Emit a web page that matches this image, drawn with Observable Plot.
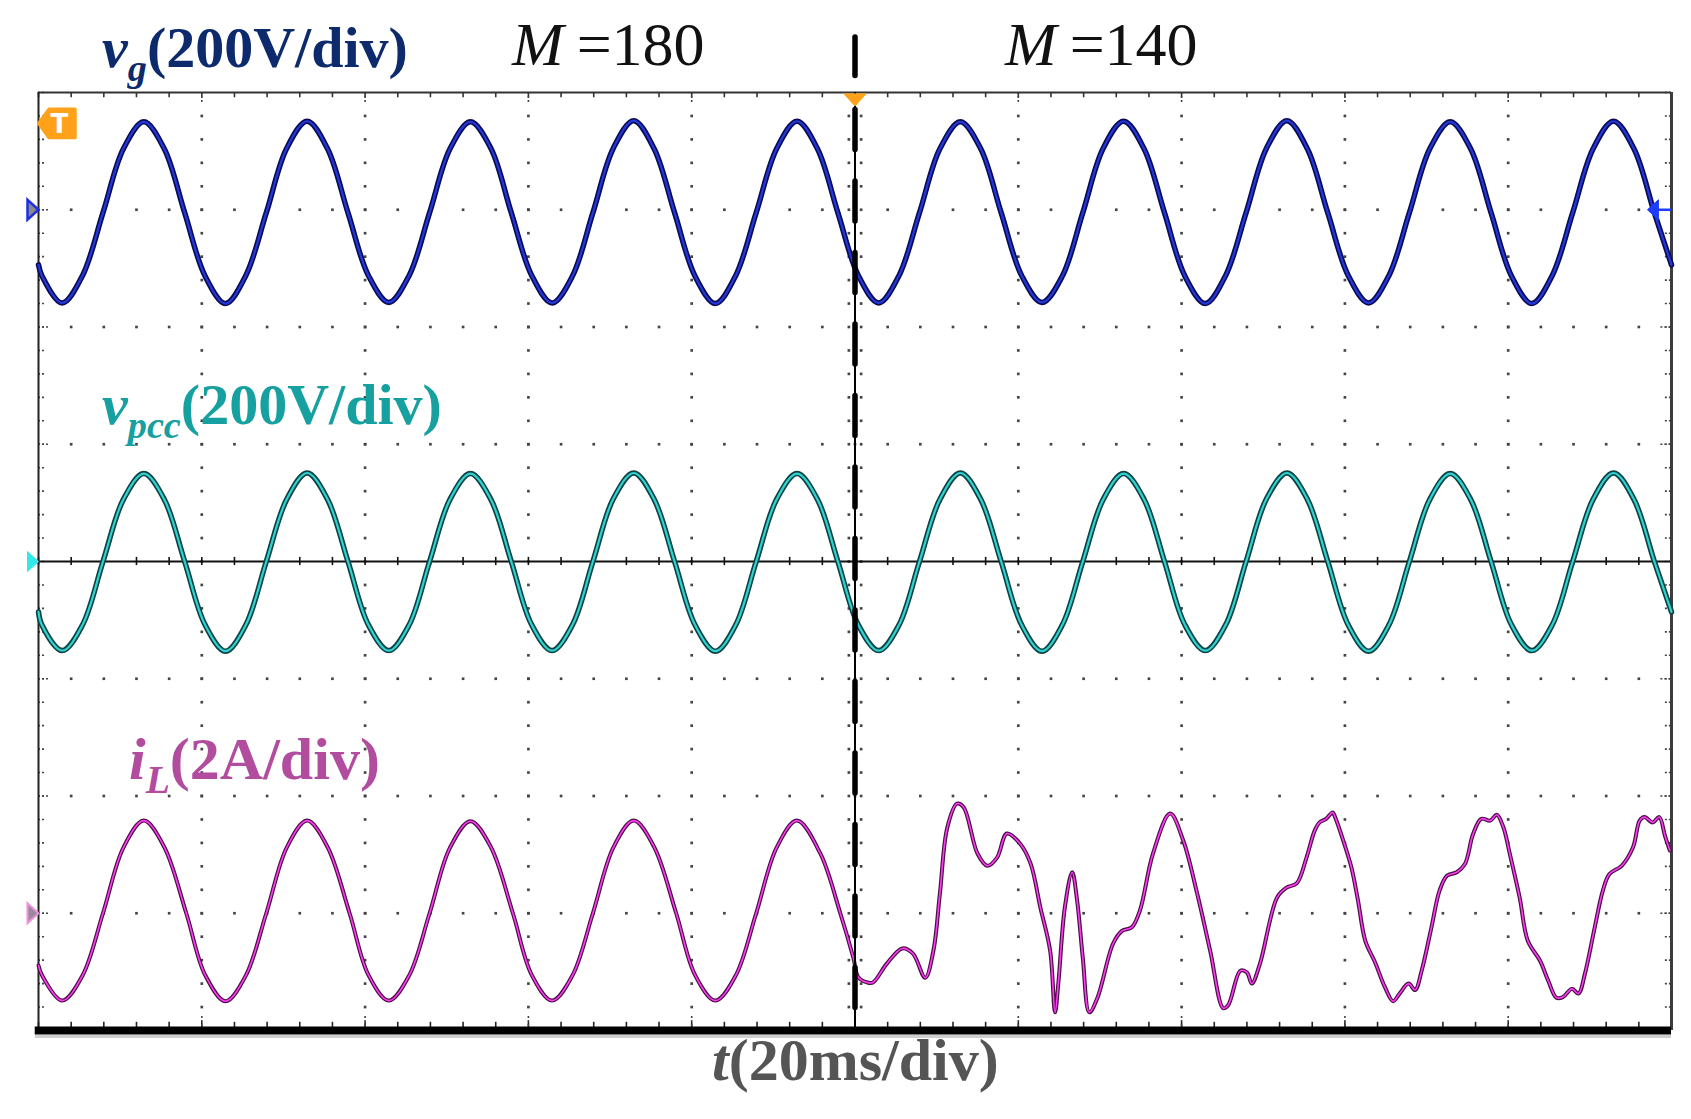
<!DOCTYPE html>
<html><head><meta charset="utf-8">
<script src="https://cdn.jsdelivr.net/npm/d3@7"></script>
<script src="https://cdn.jsdelivr.net/npm/@observablehq/plot@0.6"></script>
<style>
html,body{margin:0;padding:0;background:#fff;}
#chart{position:relative;width:1691px;height:1119px;}
</style></head><body><div id="chart"></div>
<script>
// ---------- data ----------
// time in ms (20 ms/div, 10 div), voltages in V (200 V/div), current in A (2 A/div)
const voltTime = [0,0.4,2.9,5.4,7.9,10.4,12.9,15.4,17.9,
20.4,22.9,25.4,27.9,30.4,32.9,35.4,37.9,
40.4,42.9,45.4,47.9,50.4,52.9,55.4,57.9,
60.4,62.9,65.4,67.9,70.4,72.9,75.4,77.9,
80.4,82.9,85.4,87.9,90.4,92.9,95.4,97.9,
100.4,102.9,105.4,107.9,110.4,112.9,115.4,117.9,
120.4,122.9,125.4,127.9,130.4,132.9,135.4,137.9,
140.4,142.9,145.4,147.9,150.4,152.9,155.4,157.9,
160.4,162.9,165.4,167.9,170.4,172.9,175.4,177.9,
180.4,182.9,185.4,187.9,190.4,192.9,195.4,197.9,200];

const vgVolts = [-94,-112,-159,-112,-5,104,150,104,-5,
-113,-160,-112,-5,105,151,104,-5,
-112,-158,-112,-5,104,150,105,-5,
-112,-159,-113,-5,105,152,104,-5,
-113,-160,-112,-5,104,151,104,-5,
-112,-159,-112,-5,104,150,104,-5,
-112,-158,-113,-5,105,151,104,-5,
-113,-160,-112,-5,105,152,104,-5,
-112,-159,-112,-5,104,150,104,-5,
-113,-160,-112,-5,104,151,104,-5,-94];

const vpccVolts = [-86,-108,-152,-108,0,106,150,106,0,
-108,-153,-108,0,106,151,106,0,
-108,-152,-108,0,106,150,106,0,
-108,-152,-108,0,107,151,106,0,
-108,-153,-108,0,106,150,106,0,
-108,-152,-108,0,106,151,106,0,
-108,-153,-108,0,106,150,106,0,
-108,-152,-108,0,107,151,106,0,
-108,-153,-108,0,106,150,106,0,
-108,-152,-108,0,106,151,106,0,-86];

const ilTime = [0,0.4,2.9,5.4,7.9,10.4,12.9,15.4,18.1,
20.4,22.9,25.4,27.9,30.4,32.9,35.4,38.1,
40.4,42.9,45.4,47.9,50.4,52.9,55.4,58.1,
60.4,62.9,65.4,67.9,70.4,72.9,75.4,78.1,
80.4,82.9,85.4,87.9,90.4,92.9,
95.75,98.2,99.8,100.4,101.5,102.2,103.9,105.8,107.1,108.6,
109.6,110.4,111.3,112.5,113.3,115.0,116.2,117.4,118.6,120.2,
121.5,122.7,123.9,124.5,124.9,125.7,126.6,127.2,127.9,128.7,
129.7,131.6,132.7,133.9,134.9,136.5,138.6,140.2,141.9,143.5,
145.1,145.7,147.2,148.0,148.6,149.6,151.7,152.9,154.1,155.3,
156.3,156.9,157.7,158.5,158.8,159.8,160.8,161.6,162.5,163.7,
164.9,165.9,166.7,167.8,168.6,169.4,170.6,171.6,172.5,173.7,
174.7,175.7,176.7,177.8,178.6,179.4,180.2,181.4,182.4,183.9,
184.9,185.9,186.7,187.8,188.6,189.4,190.6,191.6,192.4,193.9,
195.3,196.1,196.7,197.7,198.5,199.2,199.8];

const ilAmps = [-0.89,-1.05,-1.49,-1.06,0.00,1.12,1.58,1.13,0.00,
-1.05,-1.50,-1.06,0.00,1.12,1.58,1.13,0.00,
-1.05,-1.49,-1.06,0.00,1.12,1.57,1.13,0.00,
-1.05,-1.49,-1.06,0.00,1.12,1.58,1.13,0.00,
-1.05,-1.49,-1.06,0.00,1.12,1.58,
1.02,0.00,-0.76,-1.09,-1.18,-1.18,-0.86,-0.60,-0.69,-1.10,
-0.64,0.34,1.46,1.87,1.81,1.02,0.81,0.95,1.36,1.19,
0.85,0.10,-0.64,-1.69,-1.20,0.10,0.70,0.22,-0.76,-1.69,
-1.44,-0.52,-0.30,-0.24,0.05,1.02,1.70,1.24,0.34,-0.64,
-1.62,-1.57,-0.98,-1.01,-1.20,-0.86,0.27,0.44,0.51,0.95,
1.41,1.55,1.61,1.72,1.64,1.24,0.78,0.22,-0.47,-0.84,
-1.26,-1.50,-1.37,-1.20,-1.31,-0.98,-0.24,0.39,0.64,0.70,
0.84,1.35,1.61,1.58,1.68,1.47,1.01,0.27,-0.47,-0.81,
-1.15,-1.44,-1.43,-1.29,-1.37,-1.03,-0.24,0.39,0.67,0.81,
1.13,1.58,1.64,1.55,1.64,1.32,1.07];

const switchTime = [100];          // M changes from 180 to 140
const majorTime = [0,20,40,60,80,100,120,140,160,180,200];
const majorDiv = [-4,-3,-2,-1,0,1,2,3,4];

// ---------- scope settings ----------
const VG_OFFSET = 3, VPCC_OFFSET = 0, IL_OFFSET = -3;   // channel ground positions (div)
const V_PER_DIV = 200, A_PER_DIV = 2;

const vg = voltTime.map((t, i) => ({t, v: vgVolts[i]}));
const vpcc = voltTime.map((t, i) => ({t, v: vpccVolts[i]}));
const il = ilTime.map((t, i) => ({t, a: ilAmps[i]}));

const rnd = v => Math.round(v * 1000) / 1000;
const minorTime = d3.range(0, 201, 4);
const minorDiv = d3.range(-4, 4.001, 0.2).map(rnd);
const interiorT = majorTime.filter(t => t > 0 && t < 200 && t !== 100);
const interiorD = majorDiv.filter(d => d > -4 && d < 4 && d !== 0);
const vDots = interiorT.flatMap(t => minorDiv.filter(d => d > -4 && d < 4).map(d => ({t, d})));
const hDots = interiorD.flatMap(d => minorTime.filter(t => t > 0 && t < 200).map(t => ({t, d})));
const cDots = minorDiv.filter(d => d > -4 && d < 4).flatMap(d => [{t: 99.25, d}, {t: 100.75, d}]);

// custom symbols
const rightTri = {draw(c, s) { const r = Math.sqrt(s / Math.PI); c.moveTo(0, 0); c.lineTo(-r * 1.1, -r); c.lineTo(-r * 1.1, r); c.closePath(); }};
const leftTri = {draw(c, s) { const r = Math.sqrt(s / Math.PI); c.moveTo(0, 0); c.lineTo(r * 1.1, -r); c.lineTo(r * 1.1, r); c.closePath(); }};
const downTri = {draw(c, s) { const r = Math.sqrt(s / Math.PI); c.moveTo(0, 0); c.lineTo(-r, -r * 1.1); c.lineTo(r, -r * 1.1); c.closePath(); }};
const tag = {draw(c, s) { const r = Math.sqrt(s / Math.PI); c.moveTo(-r * 1.15, 0); c.lineTo(-r * 0.5, -r * 0.9); c.lineTo(r * 1.15, -r * 0.9); c.lineTo(r * 1.15, r * 0.9); c.lineTo(-r * 0.5, r * 0.9); c.closePath(); }};

const GRID = "#444";

const chart = Plot.plot({
  width: 1691, height: 1119,
  marginLeft: 38, marginRight: 20, marginTop: 92, marginBottom: 89,
  style: {background: "white", overflow: "visible"},
  x: {domain: [0, 200], axis: null},
  y: {domain: [-4, 4], axis: null},
  marks: [
    // dotted graticule
    Plot.dot(vDots, {x: "t", y: "d", r: 1.5, symbol: "square", fill: GRID}),
    Plot.dot(hDots, {x: "t", y: "d", r: 1.5, symbol: "square", fill: GRID}),
    Plot.dot(cDots, {x: "t", y: "d", r: 1.5, symbol: "square", fill: GRID}),
    // frame minor ticks
    Plot.ruleX(minorTime, {y1: 4, y2: 3.955, stroke: "#333", strokeWidth: 1.6}),
    Plot.ruleX(minorTime, {y1: -4, y2: -3.93, stroke: "#222", strokeWidth: 1.6}),
    Plot.ruleX(interiorT, {y1: 4, y2: 3.9, stroke: "#444", strokeWidth: 1.6, strokeDasharray: "2,2"}),
    Plot.ruleX(interiorT, {y1: -4, y2: -3.88, stroke: "#444", strokeWidth: 1.6, strokeDasharray: "2,2"}),
    Plot.ruleY(minorDiv, {x1: 0, x2: 0.75, stroke: "#444", strokeWidth: 1.6, strokeDasharray: "2,2"}),
    Plot.ruleY(minorDiv, {x1: 199.25, x2: 200, stroke: "#444", strokeWidth: 1.6, strokeDasharray: "2,2"}),
    Plot.ruleY(interiorD, {x1: 0, x2: 1.3, stroke: "#444", strokeWidth: 1.6, strokeDasharray: "2,2"}),
    Plot.ruleY(interiorD, {x1: 198.7, x2: 200, stroke: "#444", strokeWidth: 1.6, strokeDasharray: "2,2"}),
    // centre horizontal axis with ticks
    Plot.ruleY([VPCC_OFFSET], {x1: 0, x2: 200, stroke: "#111", strokeWidth: 2}),
    Plot.ruleX(minorTime, {y1: -0.035, y2: 0.035, stroke: "#111", strokeWidth: 1.6}),
    // frame
    Plot.ruleY([4], {x1: 0, x2: 200, stroke: "#333", strokeWidth: 1.8}),
    Plot.ruleX([0], {y1: -4, y2: 4, stroke: "#222", strokeWidth: 2}),
    Plot.ruleX([200], {y1: -4, y2: 4, stroke: "#3c3c3c", strokeWidth: 3}),
    Plot.ruleY([-4], {x1: -0.4, x2: 200, dy: 6, stroke: "#cfcfcf", strokeWidth: 3}),
    Plot.ruleY([-4], {x1: -0.4, x2: 200, stroke: "#000", strokeWidth: 8}),
    // traces (dark edge + bright core, like the scope's persistence)
    Plot.line(vg, {x: "t", y: d => VG_OFFSET + d.v / V_PER_DIV, curve: "catmull-rom", stroke: "#0b0b55", strokeWidth: 5.5}),
    Plot.line(vg, {x: "t", y: d => VG_OFFSET + d.v / V_PER_DIV, curve: "catmull-rom", stroke: "#2338d8", strokeWidth: 2.2}),
    Plot.line(vpcc, {x: "t", y: d => VPCC_OFFSET + d.v / V_PER_DIV, curve: "catmull-rom", stroke: "#0d4242", strokeWidth: 5.5}),
    Plot.line(vpcc, {x: "t", y: d => VPCC_OFFSET + d.v / V_PER_DIV, curve: "catmull-rom", stroke: "#2fd2d2", strokeWidth: 2.2}),
    Plot.line(il, {x: "t", y: d => IL_OFFSET + d.a / A_PER_DIV, curve: "catmull-rom", stroke: "#4a0f45", strokeWidth: 4}),
    Plot.line(il, {x: "t", y: d => IL_OFFSET + d.a / A_PER_DIV, curve: "catmull-rom", stroke: "#ff3cf4", strokeWidth: 1.6}),
    // switching instant: dashed black line, bar above the screen
    Plot.ruleX(switchTime, {y1: 4, y2: -4, stroke: "#000", strokeWidth: 2}),
    Plot.ruleX(switchTime, {y1: 4, y2: -4, stroke: "#000", strokeWidth: 5.5, strokeLinecap: "round", strokeDasharray: "40,31.5", strokeDashoffset: 54}),
    Plot.ruleX(switchTime, {y1: 4.47, y2: 4.14, stroke: "#000", strokeWidth: 5.5, strokeLinecap: "round"}),
    // trigger markers
    Plot.dot(switchTime, {x: d => d, y: 3.885, symbol: downTri, r: 11, fill: "#ffa21a", stroke: "#ffa21a", strokeWidth: 1}),
    Plot.dot([0], {x: 2.25, y: 3.736, symbol: tag, r: 16, fill: "#ffa21a", stroke: "#ffa21a", strokeWidth: 3, strokeLinejoin: "round"}),
    Plot.text(["T"], {x: 2.55, y: 3.736, text: d => d, fill: "white", fontSize: 26, fontWeight: "bold", fontFamily: "DejaVu Sans", dy: 1}),
    // channel ground markers
    Plot.dot([VG_OFFSET], {x: 0, y: d => d, symbol: rightTri, r: 10, fill: "#8a8a8a", stroke: "#1f2fe6", strokeWidth: 2.5}),
    Plot.dot([VPCC_OFFSET], {x: 0, y: d => d, symbol: rightTri, r: 10, fill: "#33e8e8", stroke: "#33e8e8", strokeWidth: 1}),
    Plot.dot([IL_OFFSET], {x: 0, y: d => d, symbol: rightTri, r: 10, fill: "#9a8a98", stroke: "#f090e0", strokeWidth: 2}),
    Plot.ruleY([VG_OFFSET], {x1: 197.6, x2: 200, stroke: "#1f3cff", strokeWidth: 2.5}),
    Plot.dot([VG_OFFSET], {x: 197.05, y: d => d, symbol: leftTri, r: 10, fill: "#1f3cff", stroke: "#1f3cff", strokeWidth: 1})
  ]
});

document.getElementById("chart").appendChild(chart);

// ---------- rich text labels ----------
const svg = d3.select(chart);
const FONT = '"Liberation Serif","Times New Roman",serif';
function richText(x, y, size, color, parts) {
  const t = svg.append("text").attr("x", x).attr("y", y)
    .attr("text-anchor", "start")
    .attr("font-family", FONT).attr("font-size", size).attr("fill", color);
  let shift = 0;
  for (const p of parts) {
    const ts = t.append("tspan").text(p.text)
      .attr("font-weight", p.bold ? "bold" : "normal")
      .attr("font-style", p.italic ? "italic" : "normal");
    const target = p.sub ? size * 0.24 : 0;
    if (target !== shift) { ts.attr("dy", target - shift); shift = target; }
    if (p.sub) ts.attr("font-size", size * 0.66);
    if (p.dx) ts.attr("dx", p.dx);
  }
}
richText(102, 67, 58, "#0c2a6c", [
  {text: "v", italic: true, bold: true},
  {text: "g", italic: true, bold: true, sub: true},
  {text: "(200V/div)", bold: true}
]);
richText(512, 65, 62, "#111", [
  {text: "M", italic: true},
  {text: "=180", dx: 13}
]);
richText(1005, 65, 62, "#111", [
  {text: "M", italic: true},
  {text: "=140", dx: 13}
]);
richText(102, 424, 58, "#17a0a0", [
  {text: "v", italic: true, bold: true},
  {text: "pcc", italic: true, bold: true, sub: true},
  {text: "(200V/div)", bold: true}
]);
richText(129, 779, 60, "#b24c9f", [
  {text: "i", italic: true, bold: true},
  {text: "L", italic: true, bold: true, sub: true},
  {text: "(2A/div)", bold: true}
]);
richText(712, 1080, 60, "#555555", [
  {text: "t", italic: true, bold: true},
  {text: "(20ms/div)", bold: true}
]);
</script></body></html>
